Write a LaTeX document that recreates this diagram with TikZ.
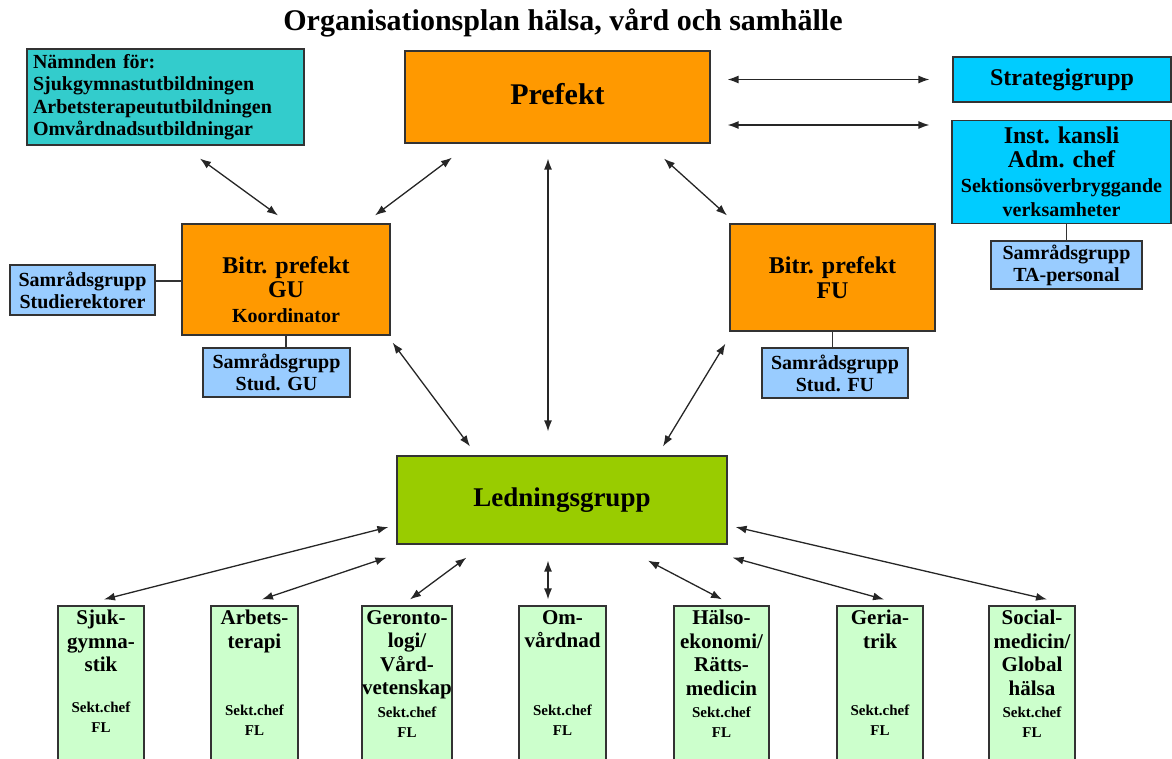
\documentclass[tikz,border=0pt]{standalone}
\usepackage{fontspec}
\setmainfont{Liberation Serif}
\usetikzlibrary{arrows.meta}
\usetikzlibrary{calc}
\usetikzlibrary{positioning}

\definecolor{namndfill}{HTML}{33CCCC}
\definecolor{prefill}{HTML}{FF9900}
\definecolor{stabfill}{HTML}{00CCFF}
\definecolor{samfill}{HTML}{99CCFF}
\definecolor{ledfill}{HTML}{99CC00}
\definecolor{sektfill}{HTML}{CCFFCC}

\begin{document}
\begin{tikzpicture}[x=1pt,y=-1pt,
    box/.style={draw=black!80,line width=1.2pt,inner sep=0pt,font=\bfseries},
    samrad/.style={box,fill=samfill,minimum width=147pt,minimum height=49pt,align=center,
      font=\bfseries\fontsize{20}{22}\selectfont},
    dbl/.style={{Latex[length=11pt,width=8pt]}-{Latex[length=11pt,width=8pt]},line width=1.3pt,black!85},
    conn/.style={line width=1.2pt,black!80}]
  \useasboundingbox (0,0) rectangle (1172,758);

  %title
  \node[font=\bfseries\fontsize{30}{34}\selectfont] (title) at (563,23)
  {Organisationsplan hälsa, vård och samhälle};

  %top row
  \node[box,fill=namndfill,minimum width=277pt,minimum height=96pt,text width=265pt,
    align=left,font=\bfseries\fontsize{20}{22.5}\selectfont] (namnd) at (165.5,97)
  {Nämnden för:\\Sjukgymnastutbildningen\\Arbetsterapeututbildningen\\Omvårdnadsutbildningar};
  \node[box,fill=prefill,minimum width=305pt,minimum height=92pt] (prefekt) at (557.5,97) {};
  \node[font=\bfseries\fontsize{30}{34}\selectfont] (prefekt-text) at ($(prefekt)+(0,-3)$) {Prefekt};
  \node[box,fill=stabfill,minimum width=218pt,minimum height=45pt,
    font=\bfseries\fontsize{24}{26}\selectfont] (strat) at (1062,79.5) {Strategigrupp};
  \node[box,fill=stabfill,minimum width=219pt,minimum height=103pt,align=center,
    font=\bfseries\fontsize{24}{24.5}\selectfont] (inst) at (1061.5,172)
  {Inst. kansli\\Adm. chef\\\fontsize{20}{22}\selectfont Sektionsöverbryggande\\
    \fontsize{20}{22}\selectfont verksamheter};
  \node[samrad,minimum width=151pt,minimum height=48pt] (ta) at (1066.5,265)
  {Samrådsgrupp\\TA-personal};

  %middle row
  \node[box,fill=prefill,minimum width=208pt,minimum height=111pt] (gu) at (286,279.5) {};
  \node[align=center,font=\bfseries\fontsize{24}{24.5}\selectfont] (gu-text)
  at ($(gu)+(0,10)$) {Bitr. prefekt\\GU\\\fontsize{20}{22}\selectfont Koordinator};
  \node[samrad,minimum width=145pt,minimum height=50pt] (studrekt) at (82.5,290)
  {Samrådsgrupp\\Studierektorer};
  \node[samrad] (studgu) at (276.5,372.5) {Samrådsgrupp\\Stud. GU};
  \node[box,fill=prefill,minimum width=205pt,minimum height=107pt,align=center,
    font=\bfseries\fontsize{24}{25}\selectfont] (fu) at (832.5,277.5)
  {Bitr. prefekt\\FU};
  \node[samrad,minimum width=146pt,minimum height=50pt] (studfu) at (835,373)
  {Samrådsgrupp\\Stud. FU};

  \node[box,fill=ledfill,minimum width=330pt,minimum height=88pt,
    font=\bfseries\fontsize{27}{30}\selectfont] (ledning) at (562,500) {Ledningsgrupp};

  %sections
  \foreach \nm/\xl/\xr/\txt/\cy in
  {sjuk/58/144/{Sjuk-\\gymna-\\stik}/717,
    arbets/211/298/{Arbets-\\terapi}/720,
    geronto/362/452/{Geronto-\\logi/\\Vård-\\vetenskap}/722,
    omv/519/606/{Om-\\vårdnad}/720,
    halso/674/769/{Hälso-\\ekonomi/\\Rätts-\\medicin}/722,
    geria/837/923/{Geria-\\trik}/720,
    social/989/1075/{Social-\\medicin/\\Global\\hälsa}/722}
  {
    \node[box,fill=sektfill,minimum width=\xr-\xl,minimum height=170pt] (\nm)
    at ({(\xl+\xr)/2},691) {};
    \node[anchor=north,align=center,inner sep=0pt,
      font=\bfseries\fontsize{21}{23.5}\selectfont] (\nm-name)
    at ({(\xl+\xr)/2},610) {\txt};
    \node[align=center,inner sep=0pt,font=\bfseries\fontsize{15}{20}\selectfont]
    (\nm-chef) at ({(\xl+\xr)/2},\cy) {Sekt.chef\\FL};
  }

  %plain lines
  \draw[conn] ($(studrekt.east)+(0,-9)$) coordinate (c1) -- (c1 -| gu.west);
  \draw[conn] (gu.south) -- (gu.south |- studgu.north);
  \draw[conn] (fu.south) -- (fu.south |- studfu.north);
  \draw[conn] (ta.north) -- (ta.north |- inst.south);

  %arrows up
  \draw[dbl] ($(prefekt.east |- strat.west)+(17,0)$) -- ($(strat.west)+(-23,0)$);
  \draw[dbl] ($(prefekt.east)+(17,28)$) -- ($(inst.west |- prefekt.east)+(-22,28)$);
  \draw[dbl] ($(namnd.south)+(34.5,13)$) -- ($(gu.north)+(-8,-8)$);
  \draw[dbl] ($(prefekt.south)+(-105.5,14)$) -- ($(gu.north)+(89,-8)$);
  \draw[dbl] ($(prefekt.south)+(-9.5,15)$) -- ($(ledning.north)+(-14,-24)$);
  \draw[dbl] ($(prefekt.south)+(106.5,15)$) -- ($(fu.north)+(-105.5,-8)$);
  \draw[dbl] ($(gu.south east)+(2,7)$) -- ($(ledning.north)+(-92,-9)$);
  \draw[dbl] ($(fu.south west)+(-4,12)$) -- ($(ledning.north)+(101,-9)$);

  %arrows down
  \draw[dbl] ($(ledning.west)+(-8,27)$) -- ($(sjuk.north)+(3,-6)$);
  \draw[dbl] ($(ledning.south west)+(-10,13)$) -- ($(arbets.north)+(7.5,-6)$);
  \draw[dbl] ($(ledning.south west)+(70,13)$) -- ($(geronto.north)+(3,-6)$);
  \draw[dbl] ($(ledning.south)+(-14,16)$) -- ($(omv.north)+(-14.5,-6)$);
  \draw[dbl] ($(ledning.south)+(86,16)$) -- ($(halso.north)+(0.5,-6)$);
  \draw[dbl] ($(ledning.south east)+(5,13)$) -- ($(geria.north)+(4,-6)$);
  \draw[dbl] ($(ledning.east)+(8,27)$) -- ($(social.north)+(15,-6)$);
\end{tikzpicture}
\end{document}
